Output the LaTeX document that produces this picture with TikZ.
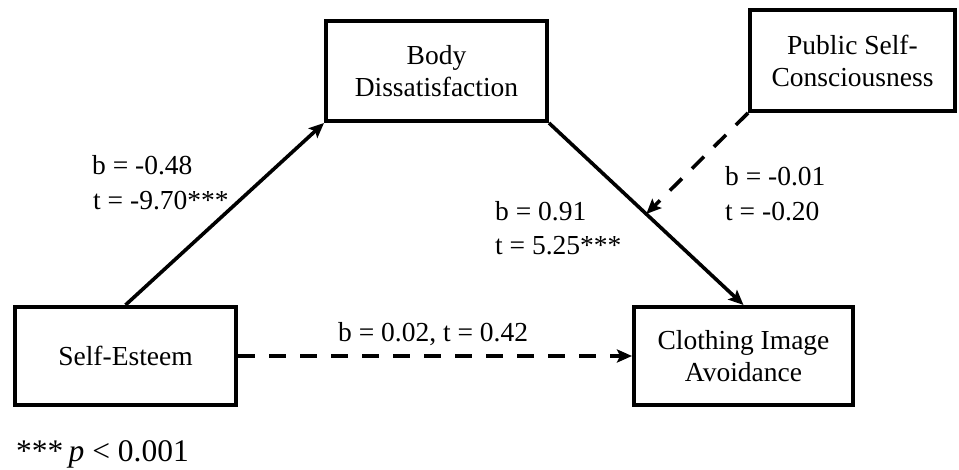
\documentclass[tikz,border=0pt]{standalone}
\usepackage{fontspec}
\setmainfont{Liberation Serif}
\usetikzlibrary{arrows.meta,calc}
\begin{document}
\begin{tikzpicture}[x=1pt,y=-1pt,
  var/.style={draw,line width=4pt,rectangle,inner sep=0pt,align=center,
    font=\fontsize{27.5}{32}\selectfont},
  link/.style={line width=3.6pt,-{Stealth[length=15pt,width=13pt,inset=3pt]}},
  dashlink/.style={link,dash pattern=on 17pt off 14pt},
  lbl/.style={anchor=base west,inner sep=0pt,font=\fontsize{27.5}{32}\selectfont}
]
\useasboundingbox (0,0) rectangle (959,470);

% variables
\node[var,minimum width=221pt,minimum height=98pt]  (se)  at (125.5,356) {Self-Esteem};
\node[var,minimum width=221pt,minimum height=100pt] (bd)  at (436.5,71)  {Body\\Dissatisfaction};
\node[var,minimum width=219pt,minimum height=98pt]  (cia) at (743.5,356) {Clothing Image\\Avoidance};
\node[var,minimum width=205pt,minimum height=101pt] (psc) at (852.5,60.5) {Public Self-\\Consciousness};

% paths
\draw[link] (se.north) -- (bd.south west);
\draw[link] (bd.south east) -- (cia.north);
\draw[dashlink] (se.east) -- (cia.west);
\coordinate (mod) at ($(bd.south east)!0.5!(cia.north)$);
\draw[dashlink] (psc.south west) -- (mod);

% coefficients
\node[lbl] (a1) at (92,175) {b = -0.48};
\node[lbl] (a2) at (93,210) {t = -9.70***};
\node[lbl] (b1) at (495,221) {b = 0.91};
\node[lbl] (b2) at (495,255) {t = 5.25***};
\node[lbl] (m1) at (725,186) {b = -0.01};
\node[lbl] (m2) at (725,221) {t = -0.20};
\node[lbl] (c1) at (338,342) {b = 0.02, t = 0.42};
\node[lbl,font=\fontsize{31.5}{36}\selectfont] (note) at (16,461) {***\,\textit{p} < 0.001};
\end{tikzpicture}
\end{document}
